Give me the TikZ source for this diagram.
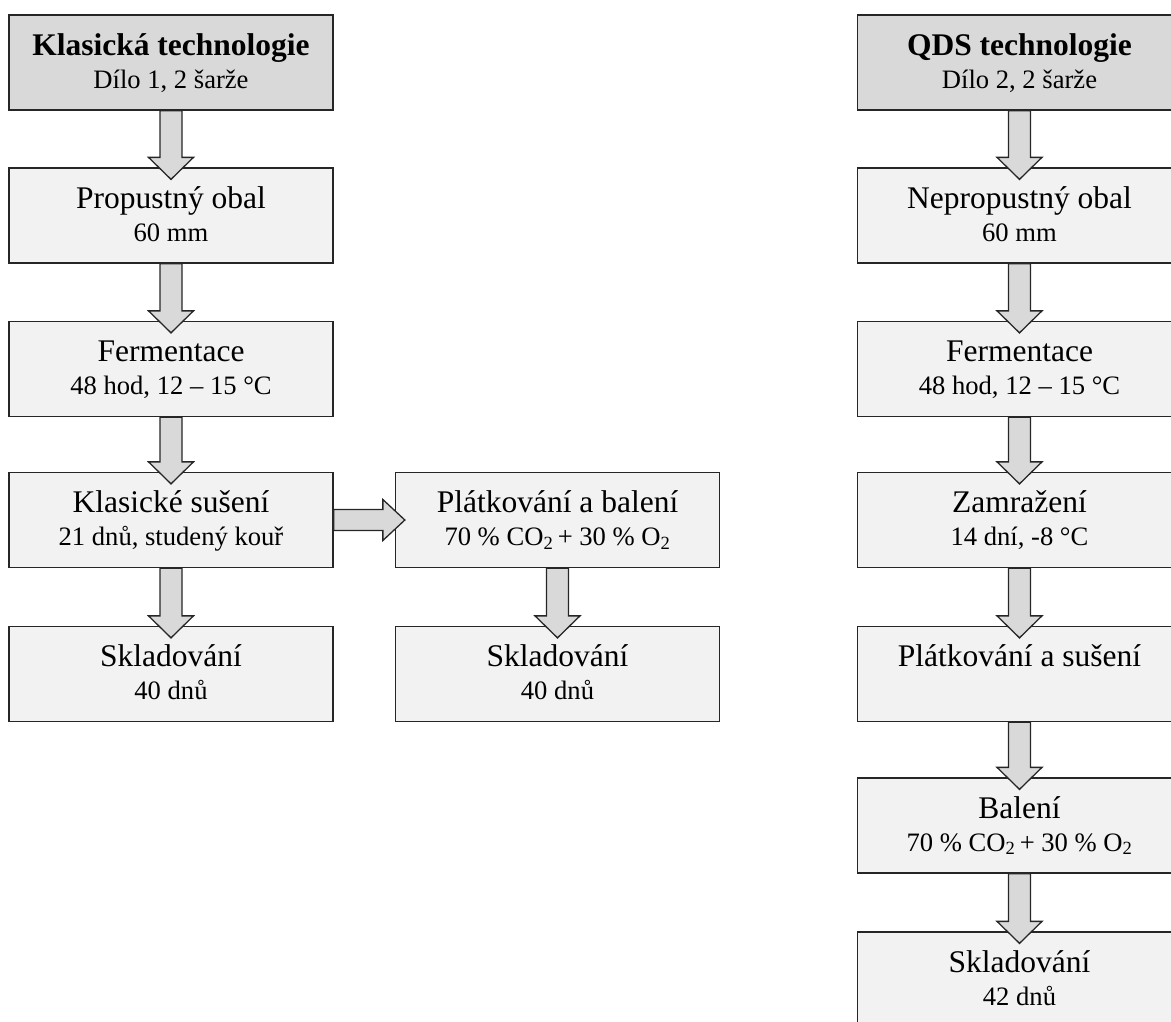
\documentclass[tikz,border=0pt]{standalone}
\usepackage{fontspec}
\setmainfont{Liberation Serif}
\usetikzlibrary{calc}
\definecolor{boxfill}{HTML}{F2F2F2}
\definecolor{headfill}{HTML}{D9D9D9}
\definecolor{arrfill}{HTML}{D9D9D9}
\definecolor{edgecol}{HTML}{262626}
\newcommand\mainsz{\fontsize{31.5}{33}\selectfont}
\newcommand\subsz{\fontsize{26.6}{33}\selectfont}
\newcommand\hdsz{\fontsize{31.5}{33}\selectfont\bfseries}
\newcommand\topstrut{\rule{0pt}{25pt}}
\newcommand\botstrut{\rule[-7pt]{0pt}{7pt}}
\newcommand\vflow[2]{%
  \draw[flowarrow] ($(#1.south)+(-11,0)$) -- ($(#2.north)+(-11,-10)$) -- ($(#2.north)+(-22.5,-10)$)
    -- ($(#2.north)+(0,12)$) -- ($(#2.north)+(22.5,-10)$) -- ($(#2.north)+(11,-10)$)
    -- ($(#1.south)+(11,0)$) -- cycle;}
\newcommand\hflow[2]{%
  \draw[flowarrow] ($(#1.east)+(0,-10.5)$) -- ($(#2.west)+(-12,-10.5)$) -- ($(#2.west)+(-12,-20.5)$)
    -- ($(#2.west)+(10,0)$) -- ($(#2.west)+(-12,20.5)$) -- ($(#2.west)+(-12,10.5)$)
    -- ($(#1.east)+(0,10.5)$) -- cycle;}
\tikzset{
  stepbox/.style={draw=edgecol, line width=1.3pt, fill=boxfill, minimum width=324pt,
    minimum height=95pt, inner sep=0pt, align=center, font=\mainsz},
  headbox/.style={stepbox, fill=headfill},
  flowarrow/.style={draw=edgecol, line width=1.3pt, fill=arrfill, line join=miter},
}
\begin{document}
\begin{tikzpicture}[x=1pt, y=-1pt]
\useasboundingbox (0,0) rectangle (1171,1021);
% left column
\node[headbox] (k1) at (171,62.5) {{\hdsz\topstrut Klasická technologie}\\{\subsz Dílo 1, 2 šarže\botstrut}};
\node[stepbox] (k2) at (171,215.5) {{\topstrut Propustný obal}\\{\subsz 60 mm\botstrut}};
\node[stepbox] (k3) at (171,369) {{\topstrut Fermentace}\\{\subsz 48 hod, 12 – 15 °C\botstrut}};
\node[stepbox] (k4) at (171,520) {{\topstrut Klasické sušení}\\{\subsz 21 dnů, studený kouř\botstrut}};
\node[stepbox] (k5) at (171,674) {{\topstrut Skladování}\\{\subsz 40 dnů\botstrut}};
% middle column
\node[stepbox] (m4) at (557.5,520) {{\topstrut Plátkování a balení}\\{\subsz 70 \% CO\textsubscript{2}\,+ 30 \% O\textsubscript{2}\botstrut}};
\node[stepbox] (m5) at (557.5,674) {{\topstrut Skladování}\\{\subsz 40 dnů\botstrut}};
% right column
\node[headbox] (q1) at (1019.5,62.5) {{\hdsz\topstrut QDS technologie}\\{\subsz Dílo 2, 2 šarže\botstrut}};
\node[stepbox] (q2) at (1019.5,215.5) {{\topstrut Nepropustný obal}\\{\subsz 60 mm\botstrut}};
\node[stepbox] (q3) at (1019.5,369) {{\topstrut Fermentace}\\{\subsz 48 hod, 12 – 15 °C\botstrut}};
\node[stepbox] (q4) at (1019.5,520) {{\topstrut Zamražení}\\{\subsz 14 dní, -8 °C\botstrut}};
\node[stepbox] (q5) at (1019.5,674) {{\topstrut Plátkování a sušení}\\{\subsz\botstrut}};
\node[stepbox] (q6) at (1019.5,825.5) {{\topstrut Balení}\\{\subsz 70 \% CO\textsubscript{2}\,+ 30 \% O\textsubscript{2}\botstrut}};
\node[stepbox] (q7) at (1019.5,979.5) {{\topstrut Skladování}\\{\subsz 42 dnů\botstrut}};
% arrows
\vflow{k1}{k2}
\vflow{k2}{k3}
\vflow{k3}{k4}
\vflow{k4}{k5}
\hflow{k4}{m4}
\vflow{m4}{m5}
\vflow{q1}{q2}
\vflow{q2}{q3}
\vflow{q3}{q4}
\vflow{q4}{q5}
\vflow{q5}{q6}
\vflow{q6}{q7}
\end{tikzpicture}
\end{document}
